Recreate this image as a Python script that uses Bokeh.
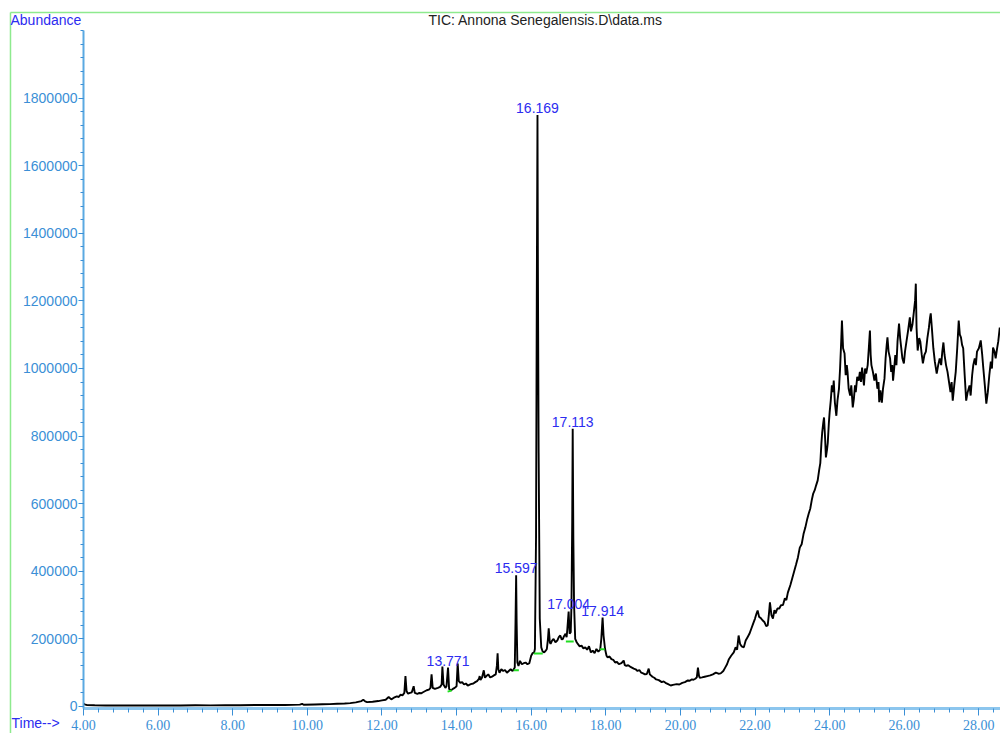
from bokeh.plotting import figure
from bokeh.models import Range1d, FixedTicker, NumeralTickFormatter, ColumnDataSource
from bokeh.core.properties import value
from bokeh.embed import file_html
from bokeh.resources import INLINE

# Total ion chromatogram, split by region: (retention time in min, abundance)
seg_baseline = [
    (4.00, 9000), (4.03, 6000), (4.10, 4000), (4.30, 3500), (4.60, 3000),
    (5.00, 3200), (5.40, 2800), (5.80, 3000), (6.20, 3300), (6.60, 3000),
    (7.00, 3600), (7.40, 3200), (7.80, 4000), (8.20, 3800), (8.60, 4200),
    (9.00, 4500), (9.40, 4200), (9.80, 5500), (9.86, 8000), (9.90, 5000),
    (10.20, 6000), (10.40, 6500), (10.60, 7000), (10.80, 8000), (11.00, 9000),
    (11.15, 10000), (11.30, 12000), (11.45, 16000), (11.50, 20000),
    (11.55, 15000), (11.60, 13000), (11.75, 14000), (11.90, 16000),
]
seg_rise = [
    (12.00, 18000), (12.10, 20000), (12.18, 28000), (12.25, 21000),
    (12.32, 26000), (12.40, 30000), (12.45, 28000), (12.50, 35000),
    (12.55, 33000), (12.60, 40000), (12.63, 90000), (12.66, 45000),
    (12.70, 38000), (12.75, 40000), (12.80, 42000), (12.85, 60000),
    (12.88, 40000), (12.95, 37000), (13.00, 40000), (13.05, 39000),
    (13.10, 42000), (13.15, 45000), (13.20, 48000), (13.26, 50000),
    (13.30, 55000), (13.33, 95000), (13.36, 55000), (13.42, 52000),
    (13.50, 55000), (13.56, 58000), (13.60, 65000), (13.62, 118000),
    (13.65, 65000), (13.70, 55000), (13.73, 60000), (13.771, 115000),
    (13.80, 52000), (13.85, 48000), (13.90, 52000), (13.95, 55000),
    (14.00, 60000), (14.03, 127000), (14.06, 75000), (14.10, 70000),
    (14.15, 72000), (14.20, 65000), (14.25, 68000), (14.30, 62000),
    (14.38, 66000), (14.45, 68000), (14.50, 72000), (14.55, 75000),
    (14.60, 82000), (14.62, 90000), (14.64, 78000), (14.68, 85000),
    (14.73, 107000), (14.76, 85000), (14.80, 90000), (14.85, 95000),
    (14.90, 86000), (14.95, 88000), (15.00, 92000), (15.05, 95000),
    (15.08, 120000), (15.10, 157000), (15.12, 110000), (15.15, 100000),
    (15.20, 110000), (15.25, 105000), (15.30, 108000), (15.35, 100000),
    (15.40, 105000), (15.45, 110000), (15.50, 105000), (15.52, 108000),
    (15.56, 115000), (15.58, 250000), (15.597, 388000), (15.61, 250000),
    (15.63, 130000), (15.66, 120000), (15.70, 135000), (15.75, 125000),
    (15.80, 128000), (15.85, 130000), (15.90, 125000), (15.95, 128000),
]
seg_main = [
    (16.00, 150000), (16.04, 158000), (16.08, 160000), (16.10, 170000),
    (16.13, 500000), (16.15, 1200000), (16.169, 1750000), (16.18, 1300000),
    (16.20, 750000), (16.23, 260000), (16.27, 175000), (16.31, 162000),
    (16.35, 160000), (16.39, 165000), (16.42, 170000), (16.45, 200000),
    (16.47, 231000), (16.50, 190000), (16.52, 185000), (16.56, 195000),
    (16.60, 200000), (16.65, 190000), (16.70, 195000), (16.74, 205000),
    (16.78, 210000), (16.82, 198000), (16.85, 200000), (16.88, 208000),
    (16.92, 215000), (16.95, 205000), (16.97, 230000), (17.004, 281000),
    (17.03, 215000), (17.06, 220000), (17.08, 300000), (17.10, 550000),
    (17.113, 822000), (17.13, 500000), (17.15, 300000), (17.18, 200000),
    (17.22, 190000), (17.25, 185000), (17.30, 178000), (17.35, 180000),
    (17.40, 172000), (17.45, 175000), (17.50, 168000), (17.55, 178000),
    (17.60, 160000), (17.65, 165000), (17.70, 158000), (17.75, 170000),
    (17.80, 162000), (17.85, 168000), (17.88, 200000), (17.914, 263000),
    (17.94, 210000), (17.98, 170000),
]
seg_valley = [
    (18.02, 150000), (18.05, 145000), (18.10, 148000), (18.15, 140000),
    (18.20, 138000), (18.25, 130000), (18.30, 132000), (18.35, 125000),
    (18.42, 128000), (18.48, 136000), (18.51, 122000), (18.55, 120000),
    (18.60, 122000), (18.65, 118000), (18.70, 115000), (18.75, 112000),
    (18.80, 110000), (18.85, 105000), (18.90, 108000), (18.95, 100000),
    (19.00, 98000), (19.05, 95000), (19.10, 96000), (19.15, 112000),
    (19.18, 95000), (19.25, 88000), (19.30, 85000), (19.35, 80000),
    (19.42, 78000), (19.50, 72000), (19.55, 74000), (19.60, 70000),
    (19.67, 66000), (19.74, 62000), (19.80, 64000), (19.90, 66000),
    (19.97, 65000), (20.05, 70000), (20.12, 72000), (20.20, 77000),
    (20.25, 76000), (20.30, 80000), (20.35, 79000), (20.40, 82000),
    (20.44, 86000), (20.47, 115000), (20.50, 90000), (20.52, 85000),
    (20.58, 86000), (20.65, 88000), (20.72, 90000), (20.80, 92000),
    (20.87, 95000), (20.95, 100000), (21.02, 97000),
]
seg_ramp = [
    (21.08, 98000), (21.15, 105000), (21.20, 115000), (21.25, 125000),
    (21.30, 140000), (21.36, 150000), (21.43, 160000), (21.48, 175000),
    (21.52, 168000), (21.56, 210000), (21.60, 185000), (21.64, 178000),
    (21.70, 175000), (21.75, 195000), (21.80, 205000), (21.85, 215000),
    (21.90, 230000), (21.95, 245000), (22.00, 260000), (22.04, 275000),
    (22.07, 284000), (22.11, 265000), (22.15, 262000), (22.20, 255000),
    (22.25, 250000), (22.30, 238000), (22.34, 240000), (22.37, 270000),
    (22.40, 308000), (22.44, 270000), (22.48, 260000), (22.52, 285000),
    (22.55, 275000), (22.60, 290000), (22.65, 290000), (22.70, 300000),
    (22.75, 300000), (22.80, 320000), (22.84, 315000), (22.88, 337000),
    (22.92, 350000), (22.95, 360000), (23.00, 380000), (23.05, 400000),
    (23.10, 420000), (23.15, 441000), (23.20, 470000), (23.25, 480000),
    (23.30, 510000), (23.35, 530000), (23.40, 555000), (23.44, 571000),
    (23.48, 585000), (23.52, 610000), (23.56, 630000), (23.60, 640000),
    (23.64, 655000), (23.68, 669000), (23.72, 700000), (23.75, 720000),
    (23.78, 780000), (23.80, 810000), (23.83, 840000), (23.85, 855000),
    (23.88, 790000), (23.90, 737000), (23.93, 760000), (23.95, 780000),
    (23.98, 840000),
]
seg_plateau = [
    (24.00, 870000), (24.03, 905000), (24.06, 950000), (24.09, 930000),
    (24.11, 964000), (24.14, 900000), (24.18, 860000), (24.21, 905000),
    (24.25, 940000), (24.28, 1000000), (24.31, 1080000), (24.33, 1142000),
    (24.36, 1060000), (24.40, 1044000), (24.43, 980000), (24.46, 1010000),
    (24.48, 990000), (24.51, 940000), (24.55, 920000), (24.58, 950000),
    (24.62, 885000), (24.65, 910000), (24.68, 950000), (24.70, 930000),
    (24.74, 975000), (24.78, 964000), (24.81, 990000), (24.84, 960000),
    (24.87, 1003000), (24.90, 970000), (24.92, 950000), (24.95, 1000000),
    (24.98, 985000), (25.02, 1010000), (25.05, 1060000), (25.08, 1112000),
    (25.10, 1040000), (25.12, 1010000), (25.16, 990000), (25.20, 964000),
    (25.24, 985000), (25.28, 940000), (25.31, 960000), (25.33, 900000),
    (25.36, 935000), (25.40, 899000), (25.43, 940000), (25.47, 970000),
    (25.50, 1030000), (25.53, 1070000), (25.55, 1092000), (25.58, 1050000),
    (25.62, 1030000), (25.65, 990000), (25.68, 1010000), (25.70, 964000),
    (25.73, 1000000), (25.76, 1040000), (25.79, 1010000), (25.82, 1080000),
    (25.86, 1133000), (25.89, 1090000), (25.92, 1060000), (25.95, 1030000),
    (25.99, 1015000), (26.02, 1050000), (26.06, 1080000), (26.10, 1110000),
    (26.15, 1151000), (26.18, 1110000), (26.22, 1130000), (26.26, 1170000),
    (26.29, 1200000), (26.31, 1251000), (26.33, 1120000), (26.36, 1053000),
    (26.40, 1090000), (26.43, 1080000), (26.47, 1040000), (26.50, 1015000),
    (26.54, 1040000), (26.58, 1050000), (26.62, 1090000), (26.66, 1120000),
    (26.69, 1150000), (26.71, 1163000), (26.74, 1120000), (26.78, 1060000),
    (26.82, 1020000), (26.87, 985000), (26.91, 1010000), (26.95, 1030000),
    (26.99, 1010000), (27.02, 1050000), (27.05, 1077000), (27.08, 1040000),
    (27.12, 1010000), (27.16, 990000), (27.20, 960000), (27.24, 930000),
    (27.27, 960000), (27.30, 905000), (27.34, 950000), (27.38, 990000),
    (27.42, 1060000), (27.46, 1142000), (27.49, 1100000), (27.52, 1092000),
    (27.55, 1070000), (27.58, 1060000), (27.62, 980000), (27.66, 905000),
    (27.70, 930000), (27.75, 950000), (27.78, 920000), (27.82, 980000),
    (27.85, 1010000), (27.89, 1030000), (27.92, 1010000), (27.95, 1050000),
    (28.00, 1060000), (28.05, 1083000), (28.09, 1040000), (28.12, 1000000),
    (28.16, 950000), (28.20, 896000), (28.24, 930000), (28.28, 980000),
    (28.32, 1020000), (28.35, 1000000), (28.38, 1062000), (28.42, 1050000),
    (28.45, 1030000), (28.49, 1060000), (28.52, 1080000), (28.56, 1121000),
]

# Integrated peaks that carry a retention-time label
peak_rt = [13.771, 15.597, 16.169, 17.004, 17.113, 17.914]
peak_text = ["13.771", "15.597", "16.169", "17.004", "17.113", "17.914"]

# Integration baselines (green) under the labelled peaks
base_t0 = [13.76, 15.53, 16.07, 16.93, 17.84]
base_t1 = [13.87, 15.67, 16.31, 17.14, 17.97]
base_a0 = [44000, 107000, 157000, 192000, 169000]
base_a1 = [47000, 107000, 157000, 192000, 169000]

x_major = [4, 6, 8, 10, 12, 14, 16, 18, 20, 22, 24, 26, 28]
y_major = [0, 200000, 400000, 600000, 800000, 1000000, 1200000,
           1400000, 1600000, 1800000]

trace = seg_baseline + seg_rise + seg_main + seg_valley + seg_ramp + seg_plateau
time_min = [t for t, _ in trace]
abundance = [a for _, a in trace]

FONT = "Liberation Sans"
TICK_BLUE = "#3b8fd6"
TEXT_BLUE = "#2c2cf0"
FRAME_GREEN = "#8eea8e"

p = figure(width=1000, height=733, output_backend="svg", toolbar_location=None,
           x_range=Range1d(4.0, 28.58), y_range=Range1d(-6000, 2000000),
           min_border_left=83, min_border_right=0, min_border_top=30,
           min_border_bottom=25)
p.outline_line_color = None
p.grid.visible = False
p.background_fill_color = "white"
p.border_fill_color = "white"

x_minor = [4 + 0.4 * i for i in range(62)]
y_minor = [40000 * i for i in range(51)]
p.xaxis.ticker = FixedTicker(ticks=x_major, minor_ticks=x_minor)
p.yaxis.ticker = FixedTicker(ticks=y_major, minor_ticks=y_minor)
p.xaxis.formatter = NumeralTickFormatter(format="0.00")
p.yaxis.formatter = NumeralTickFormatter(format="0")

for ax in (p.xaxis, p.yaxis):
    ax.major_label_text_font = FONT
    ax.major_label_text_color = TICK_BLUE
    ax.major_tick_line_color = TICK_BLUE
    ax.minor_tick_line_color = TICK_BLUE
    ax.major_tick_in = 0
    ax.minor_tick_in = 0

p.xaxis.major_label_text_font = "Liberation Sans Narrow"
p.xaxis.major_label_text_font_size = "14px"
p.yaxis.major_label_text_font_size = "14px"
p.xaxis.axis_line_color = "#8cc6ee"
p.xaxis.axis_line_width = 3
p.xaxis.major_tick_out = 7
p.xaxis.minor_tick_out = 4
p.xaxis.major_label_standoff = 4
p.yaxis.axis_line_color = "#5aa9e2"
p.yaxis.axis_line_width = 2
p.yaxis.major_tick_out = 5
p.yaxis.minor_tick_out = 3
p.yaxis.major_label_standoff = 1

# Chromatogram trace
p.line(time_min, abundance, line_color="black", line_width=1.9)

# Integration baselines
p.segment(x0=base_t0, y0=base_a0, x1=base_t1, y1=base_a1,
          line_color="#22dd22", line_width=2)

# Retention-time labels sitting on the peak tops
peak_height = [abundance[time_min.index(rt)] for rt in peak_rt]
labels = ColumnDataSource(dict(x=peak_rt, y=peak_height, text=peak_text))
p.text(x="x", y="y", text="text", source=labels, text_align="center",
       text_baseline="bottom", y_offset=-2, text_color=TEXT_BLUE,
       text_font=value(FONT), text_font_size="14px")


def px_x(px):
    """Canvas pixel column -> retention time."""
    return 4 + (px - 83) / 37.30


def px_y(py):
    """Canvas pixel row -> abundance."""
    return (706 - py) * 2958.6


# Page frame lines and header/footer texts, drawn above the plot frame
p.segment(x0=[px_x(10), px_x(10)], y0=[px_y(12), px_y(12)],
          x1=[px_x(1000), px_x(10)], y1=[px_y(12), px_y(733)],
          line_color=FRAME_GREEN, line_width=1.5, level="overlay")
p.text(x=[px_x(10)], y=[px_y(20)], text=["Abundance"], text_color=TEXT_BLUE,
       text_font=value(FONT), text_font_size="14px", text_baseline="middle",
       text_align="left", level="overlay")
p.text(x=[px_x(11)], y=[px_y(723)], text=["Time-->"], text_color=TEXT_BLUE,
       text_font=value(FONT), text_font_size="14px", text_baseline="middle",
       text_align="left", level="overlay")
p.text(x=[px_x(545)], y=[px_y(20)], text=["TIC: Annona Senegalensis.D\\data.ms"],
       text_color="#222222", text_font=value(FONT), text_font_size="14px",
       text_baseline="middle", text_align="center", level="overlay")

open("out.html", "w").write(file_html(p, INLINE))
